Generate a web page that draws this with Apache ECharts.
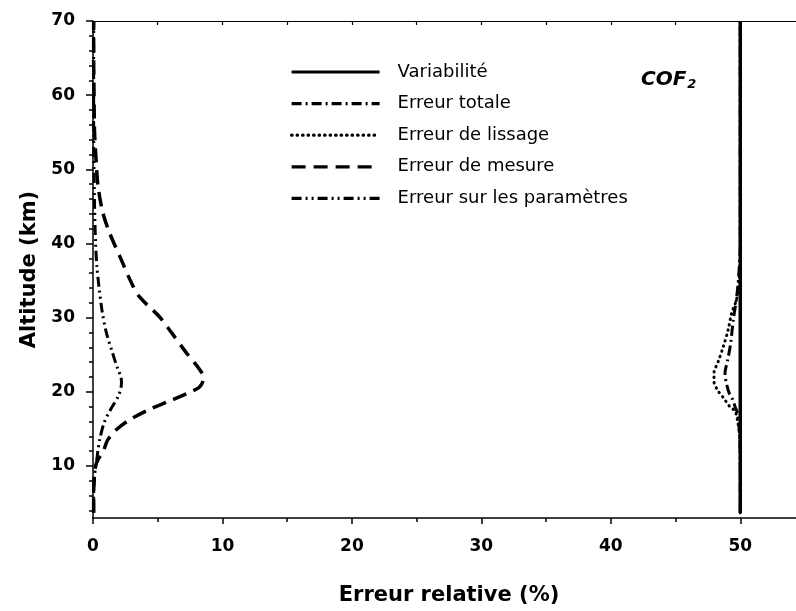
<!DOCTYPE html>
<html>
<head>
<meta charset="utf-8">
<script src="https://cdn.jsdelivr.net/npm/echarts@6/dist/echarts.min.js"></script>
<style>html,body{margin:0;padding:0;background:#fff}#c{width:796px;height:611px}</style>
</head>
<body>
<div id="c"></div>
<script>
// ---- Data (x = relative error %, y = altitude km) ----
var xTickLabels = [0, 10, 20, 30, 40, 50];
var xMinorTicks = [5, 15, 25, 35, 45];
var yTickLabels = [10, 20, 30, 40, 50, 60, 70];
var yMinorTicks = [4, 6, 8, 12, 14, 16, 18, 22, 24, 26, 28, 32, 34, 36, 38, 42, 44, 46, 48, 52, 54, 56, 58, 62, 64, 66, 68];

var seriesNames = ['Variabilité', 'Erreur totale', 'Erreur de lissage', 'Erreur de mesure', 'Erreur sur les paramètres'];

var altVariab = [3.7, 70];
var valVariab = [50, 50];

var altTotale = [3.7, 10, 14, 17, 18, 19, 19.8, 21, 22.5, 24.3, 26.6, 29.7, 32.5, 35, 40, 70];
var valTotale = [50, 50, 49.95, 49.8, 49.6, 49.4, 49.15, 48.95, 48.82, 49.03, 49.26, 49.46, 49.7, 49.85, 50, 50];

var altLissage = [3.7, 10, 14, 16, 17.4, 18.0, 19.2, 20.1, 21.4, 22.5, 24.1, 26.1, 28.4, 30.6, 32.4, 35, 38, 45, 70];
var valLissage = [50, 50, 49.95, 49.8, 49.6, 49.2, 48.7, 48.3, 47.97, 47.97, 48.3, 48.69, 49.07, 49.33, 49.7, 49.9, 50, 50, 50];

var altMesure = [3.7, 6, 8, 10, 10.9, 11.8, 12.5, 13.6, 14.9, 16.2, 17.6, 18.7, 19.9, 20.7, 21.9, 23.0, 25.3, 28.0, 30.1, 32.8, 34.7, 37.8, 41.4, 44.1, 47.7, 50.9, 55, 60, 65, 70];
var valMesure = [0.05, 0.05, 0.08, 0.2, 0.4, 0.75, 0.9, 1.16, 1.8, 2.8, 4.3, 5.8, 7.4, 8.25, 8.55, 8.25, 7.2, 6.06, 5.15, 3.6, 2.97, 2.19, 1.29, 0.77, 0.39, 0.25, 0.12, 0.08, 0.05, 0.05];

var altParam = [3.7, 6, 8, 10, 11, 12.2, 13.6, 15.8, 17.6, 19.6, 21.2, 22.1, 23.0, 25.3, 28.0, 30.7, 34.2, 36.9, 40.1, 45, 50, 55, 60, 65, 70];
var valParam = [0.05, 0.05, 0.1, 0.2, 0.3, 0.39, 0.52, 0.85, 1.35, 2.0, 2.2, 2.15, 1.93, 1.5, 1.03, 0.72, 0.46, 0.3, 0.2, 0.12, 0.08, 0.05, 0.05, 0.05, 0.05];

function pairs(xs, ys) { return xs.map(function (x, i) { return [x, ys[i]]; }); }

var FONT = 'DejaVu Sans';
var chart = echarts.init(document.getElementById('c'), null, { renderer: 'canvas' });

function lineSeries(name, xs, ys, lineStyle, smooth) {
  return {
    name: name, type: 'line', xAxisIndex: 0, yAxisIndex: 0,
    data: pairs(xs, ys), symbol: 'none', showSymbol: false, smooth: smooth, animation: false,
    itemStyle: { color: 'rgba(0,0,0,0)' },
    lineStyle: lineStyle, z: 3
  };
}

var option = {
  animation: false,
  backgroundColor: '#fff',
  grid: { left: 93, top: 21, width: 712, height: 497, containLabel: false, outerBoundsMode: 'none' },
  xAxis: [
    {
      type: 'value', position: 'bottom', min: 0, max: 55,
      axisLine: { show: true, onZero: false, lineStyle: { color: '#000', width: 1.5 } },
      axisTick: { show: true, inside: false, length: 6, customValues: xTickLabels, lineStyle: { color: '#000', width: 1.5 } },
      axisLabel: { show: true, customValues: xTickLabels, margin: 20, color: '#000', fontFamily: FONT, fontSize: 17, fontWeight: 'bold' },
      splitLine: { show: false },
      name: 'Erreur relative (%)', nameLocation: 'middle', nameGap: 67,
      nameTextStyle: { color: '#000', fontFamily: FONT, fontSize: 21, fontWeight: 'bold' }
    },
    {
      type: 'value', position: 'bottom', min: 0, max: 55,
      axisLine: { show: false },
      axisTick: { show: true, inside: false, length: 4, customValues: xMinorTicks, lineStyle: { color: '#000', width: 1.5 } },
      axisLabel: { show: false },
      splitLine: { show: false }
    },
    {
      type: 'value', position: 'top', min: 0, max: 55, interval: 5,
      axisLine: { show: true, onZero: false, lineStyle: { color: '#000', width: 1.2 } },
      axisTick: { show: true, inside: true, length: 4, lineStyle: { color: '#000', width: 1.2 } },
      axisLabel: { show: false },
      splitLine: { show: false }
    }
  ],
  yAxis: [
    {
      type: 'value', position: 'left', min: 3, max: 70,
      axisLine: { show: true, onZero: false, lineStyle: { color: '#000', width: 1.5 } },
      axisTick: { show: true, inside: false, length: 7, customValues: yTickLabels, lineStyle: { color: '#000', width: 1.5 } },
      axisLabel: { show: true, customValues: yTickLabels, margin: 18, color: '#000', fontFamily: FONT, fontSize: 17, fontWeight: 'bold' },
      splitLine: { show: false },
      name: 'Altitude (km)', nameLocation: 'middle', nameGap: 48,
      nameTextStyle: { color: '#000', fontFamily: FONT, fontSize: 21, fontWeight: 'bold' }
    },
    {
      type: 'value', position: 'left', min: 3, max: 70,
      axisLine: { show: false },
      axisTick: { show: true, inside: false, length: 4, customValues: yMinorTicks, lineStyle: { color: '#000', width: 1.5 } },
      axisLabel: { show: false },
      splitLine: { show: false }
    }
  ],
  legend: {
    orient: 'vertical', left: 285, top: 58,
    itemWidth: 88, itemHeight: 18, itemGap: 13.6,
    data: seriesNames,
    itemStyle: { opacity: 0 },
    lineStyle: { width: 3.2 },
    textStyle: { color: '#000', fontFamily: FONT, fontSize: 18, padding: [0, 0, 0, 13] },
    selectedMode: false
  },
  graphic: [
    {
      type: 'text', left: 641, top: 70,
      style: {
        text: '{a|COF}{b|2}',
        rich: {
          a: { fontFamily: FONT, fontSize: 20, fontWeight: 'bold', fontStyle: 'italic', fill: '#000' },
          b: { fontFamily: FONT, fontSize: 13, fontWeight: 'bold', fontStyle: 'italic', fill: '#000', padding: [9, 0, 0, 1] }
        }
      }
    }
  ],
  series: [
    lineSeries(seriesNames[0], valVariab, altVariab, { color: '#000', width: 3.5, type: 'solid' }, false),
    lineSeries(seriesNames[1], valTotale, altTotale, { color: '#000', width: 3, type: [10, 4, 2, 4] }, 0.3),
    lineSeries(seriesNames[2], valLissage, altLissage, { color: '#000', width: 3, type: [0.5, 5], cap: 'round' }, 0.3),
    lineSeries(seriesNames[3], valMesure, altMesure, { color: '#000', width: 3.5, type: [14, 8] }, 0.3),
    lineSeries(seriesNames[4], valParam, altParam, { color: '#000', width: 3, type: [10, 4, 2, 4, 2, 4] }, 0.3)
  ]
};
chart.setOption(option);
</script>
</body>
</html>
